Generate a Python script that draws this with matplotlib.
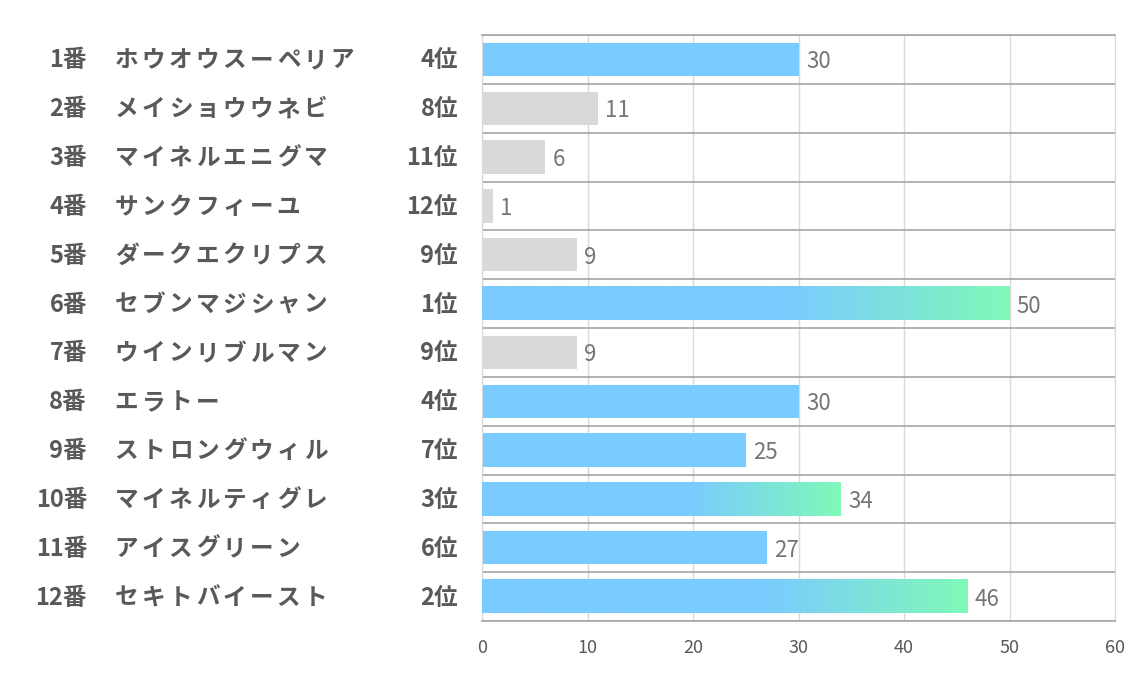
import numpy as np
import matplotlib.pyplot as plt
from matplotlib.colors import LinearSegmentedColormap
from matplotlib.transforms import blended_transform_factory

plt.rcParams['font.family'] = ['Noto Sans CJK JP', 'DejaVu Sans']

numbers = ['1番', '2番', '3番', '4番', '5番', '6番', '7番', '8番', '9番', '10番', '11番', '12番']
names = ['ホウオウスーペリア', 'メイショウウネビ', 'マイネルエニグマ', 'サンクフィーユ',
         'ダークエクリプス', 'セブンマジシャン', 'ウインリブルマン', 'エラトー',
         'ストロングウィル', 'マイネルティグレ', 'アイスグリーン', 'セキトバイースト']
ranks = [4, 8, 11, 12, 9, 1, 9, 4, 7, 3, 6, 2]
scores = [30, 11, 6, 1, 9, 50, 9, 30, 25, 34, 27, 46]
xticks = [0, 10, 20, 30, 40, 50, 60]

blue = '#7ACBFF'
green = '#80F9B8'
grey = '#D9D9D9'
txt = '#595959'

W, H = 1134, 680
fig = plt.figure(figsize=(W / 100, H / 100), dpi=100)
ax = fig.add_axes([482 / W, 1 - 621 / H, (1115 - 482) / W, (621 - 35) / H])

n = len(scores)
ypos = np.arange(n)
bar_h = 0.68
cols = [blue if r <= 7 else grey for r in ranks]
ax.barh(ypos, scores, height=bar_h, color=cols, zorder=2)

# gradient on the top 3 bars: plain blue then fading into green
cmap = LinearSegmentedColormap.from_list('bg', [(0, blue), (0.58, blue), (1, green)])
grad = np.linspace(0, 1, 512).reshape(1, -1)
for i in range(n):
    if ranks[i] <= 3:
        ax.imshow(grad, cmap=cmap, aspect='auto', zorder=3, interpolation='bilinear',
                  extent=[0, scores[i], ypos[i] + bar_h / 2, ypos[i] - bar_h / 2])

for i in range(n):
    ax.text(scores[i] + 0.7, ypos[i] + 0.05, str(scores[i]), va='center', ha='left',
            fontsize=16, color='#767676', zorder=4)

ax.set_xlim(0, 60)
ax.set_ylim(n - 0.5, -0.5)
ax.set_xticks(xticks)
ax.set_xticklabels([str(t) for t in xticks], fontsize=13, color=txt)
ax.set_yticks([])
ax.set_yticks(np.arange(n + 1) - 0.5, minor=True)
ax.tick_params(axis='x', length=0, pad=13)
ax.tick_params(axis='y', which='both', length=0)
ax.grid(axis='x', color='#D9D9D9', linewidth=1, zorder=0)
ax.grid(axis='y', which='minor', color='#A6A6A6', linewidth=1.2, zorder=1)
for s in ['left', 'right']:
    ax.spines[s].set_color('#D9D9D9')
for s in ['top', 'bottom']:
    ax.spines[s].set_color('#A6A6A6')
    ax.spines[s].set_linewidth(1.2)

tr = blended_transform_factory(fig.transFigure, ax.transData)
step = 27
for i in range(n):
    y = ypos[i] + 0.02
    ax.text(87 / W, y, numbers[i], transform=tr, ha='right', va='center',
            fontsize=17, fontweight='bold', color=txt, clip_on=False)
    for k, ch in enumerate(names[i]):
        ax.text((113 + step / 2 + k * step) / W, y, ch, transform=tr, ha='center',
                va='center', fontsize=17, fontweight='bold', color=txt, clip_on=False)
    ax.text(458 / W, y, '%d位' % ranks[i], transform=tr, ha='right', va='center',
            fontsize=17, fontweight='bold', color=txt, clip_on=False)

plt.savefig('out.png', dpi=100)
